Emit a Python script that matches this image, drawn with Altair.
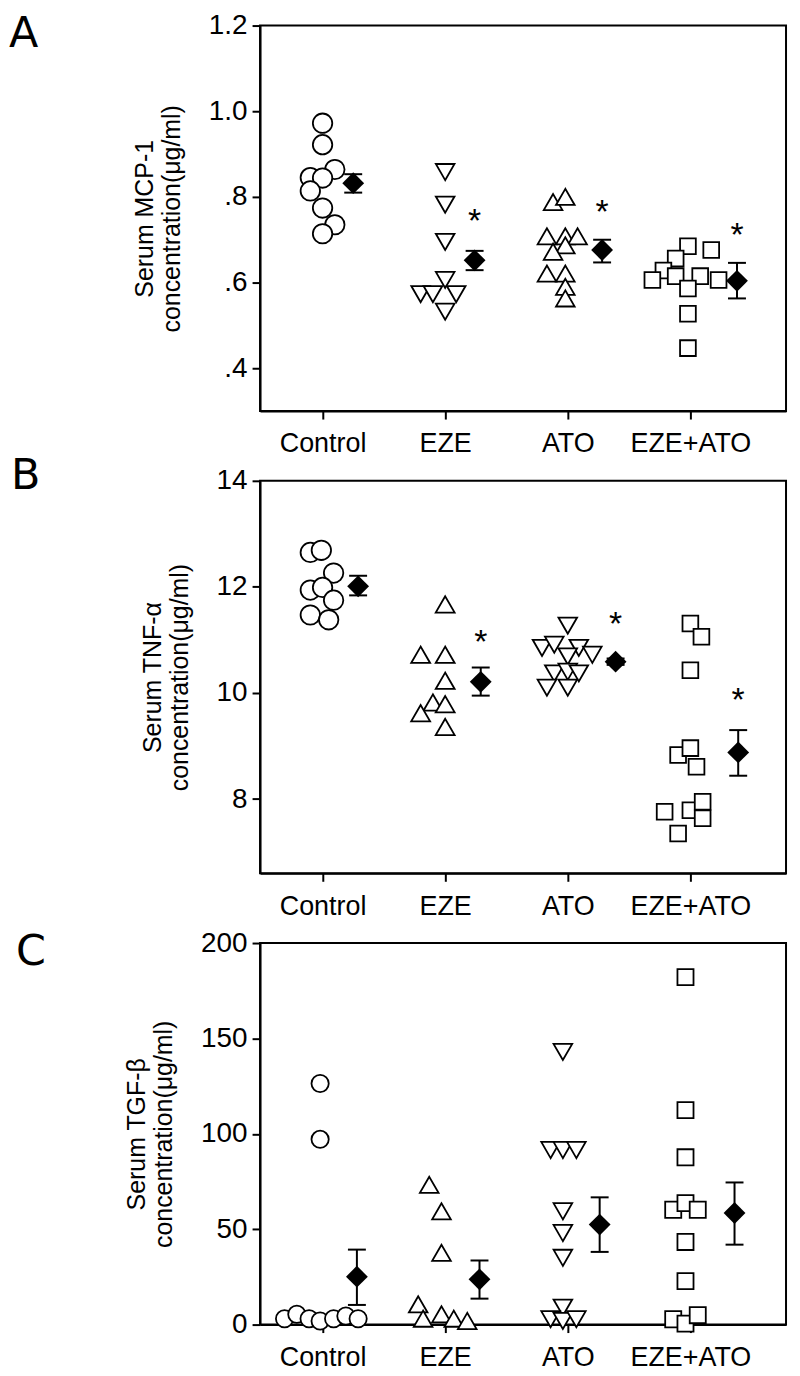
import altair as alt
import pandas as pd

groups = ["Control", "EZE", "ATO", "EZE+ATO"]

# ---------------- Panel A : Serum MCP-1 ----------------
a_ctrl_x = [1.00, 1.00, 1.10, 0.90, 1.00, 0.90, 1.00, 1.10, 1.00]
a_ctrl_y = [0.972, 0.922, 0.864, 0.845, 0.844, 0.814, 0.774, 0.735, 0.714]
a_eze_x = [2.00, 2.00, 2.00, 2.00, 1.80, 1.90, 2.09, 2.00]
a_eze_y = [0.858, 0.782, 0.695, 0.606, 0.573, 0.573, 0.573, 0.532]
a_ato_x = [2.88, 2.98, 2.83, 2.98, 3.08, 2.98, 2.88, 2.83, 2.98, 2.98, 2.98]
a_ato_y = [0.788, 0.800, 0.708, 0.708, 0.708, 0.687, 0.672, 0.621, 0.621, 0.590, 0.563]
a_combo_x = [3.98, 4.17, 3.88, 3.78, 3.69, 3.88, 4.08, 3.98, 4.23, 3.98, 3.98]
a_combo_y = [0.685, 0.676, 0.656, 0.628, 0.606, 0.615, 0.615, 0.586, 0.606, 0.527, 0.447]
a_mean_x = [1.25, 2.24, 3.28, 4.38]
a_mean = [0.832, 0.652, 0.676, 0.604]
a_lo = [0.810, 0.629, 0.647, 0.563]
a_hi = [0.853, 0.674, 0.700, 0.646]
a_star = [None, 0.755, 0.776, 0.722]

# ---------------- Panel B : Serum TNF-α ----------------
b_ctrl_x = [0.90, 0.99, 1.09, 0.90, 1.00, 1.09, 0.90, 1.05]
b_ctrl_y = [12.65, 12.69, 12.26, 11.94, 11.99, 11.75, 11.47, 11.38]
b_eze_x = [2.00, 1.80, 2.00, 2.00, 1.90, 2.00, 1.80, 2.00]
b_eze_y = [11.67, 10.72, 10.72, 10.23, 9.82, 9.79, 9.62, 9.36]
b_ato_x = [3.00, 2.79, 2.89, 3.09, 3.20, 3.00, 2.89, 3.00, 3.09, 2.83, 3.00]
b_ato_y = [11.27, 10.85, 10.91, 10.85, 10.72, 10.69, 10.37, 10.40, 10.37, 10.10, 10.10]
b_combo_x = [4.00, 4.09, 4.00, 3.90, 4.00, 4.05, 3.79, 4.00, 4.10, 4.10, 3.90]
b_combo_y = [11.31, 11.06, 10.43, 8.83, 8.96, 8.61, 7.76, 7.79, 7.95, 7.64, 7.35]
b_mean_x = [1.29, 2.29, 3.39, 4.39]
b_mean = [12.01, 10.21, 10.59, 8.88]
b_lo = [11.84, 9.95, 10.53, 8.44]
b_hi = [12.21, 10.48, 10.65, 9.30]
b_star = [None, 11.06, 11.40, 9.96]

# ---------------- Panel C : Serum TGF-β ----------------
c_ctrl_x = [0.98, 0.98, 0.69, 0.79, 0.89, 0.98, 1.09, 1.19, 1.29]
c_ctrl_y = [126.4, 97.1, 3.1, 5.4, 3.1, 1.9, 3.1, 4.5, 3.1]
c_eze_x = [1.87, 1.97, 1.97, 1.78, 1.82, 1.97, 2.07, 2.18]
c_eze_y = [73.3, 59.4, 37.6, 10.6, 3.1, 5.4, 3.1, 1.9]
c_ato_x = [2.96, 2.86, 2.96, 3.07, 2.96, 2.96, 2.96, 2.96, 2.86, 2.96, 3.07]
c_ato_y = [142.9, 91.5, 91.5, 91.5, 59.4, 48.0, 35.0, 8.9, 2.8, 1.9, 2.8]
c_combo_x = [3.96, 3.96, 3.96, 3.86, 3.96, 4.06, 3.96, 3.96, 3.86, 3.96, 4.06]
c_combo_y = [182.1, 112.4, 87.7, 60.2, 63.7, 60.2, 43.3, 22.8, 2.8, 0.5, 4.9]
c_mean_x = [1.28, 2.28, 3.26, 4.36]
c_mean = [25.1, 23.7, 52.4, 58.5]
c_lo = [10.3, 13.6, 38.1, 41.9]
c_hi = [39.3, 33.6, 66.7, 74.5]
c_star = [None, None, None, None]

FONT = "Liberation Sans"
XLBL = 27
YLBL = 28


def points_df(xs, ys):
    rows = []
    for g, gx, gy in zip(groups, xs, ys):
        for x, y in zip(gx, gy):
            rows.append({"group": g, "x": x, "y": y})
    return pd.DataFrame(rows)


def means_df(mx, m, lo, hi, star):
    return pd.DataFrame({"group": groups, "x": mx, "mean": m, "lo": lo, "hi": hi, "star": star})


x_label_expr = "['', 'Control', 'EZE', 'ATO', 'EZE+ATO'][datum.value]"


def panel(pts, means, ydomain, yticks, ylabel_expr, title, letter, letter_x, letter_y,
          shapes, sizes, height):
    xscale = alt.Scale(domain=[0.49, 4.78], nice=False, zero=False)
    yscale = alt.Scale(domain=ydomain, nice=False, zero=False)
    xaxis = alt.Axis(values=[1, 2, 3, 4], labelExpr=x_label_expr, title=None, grid=False,
                     tickSize=8, labelPadding=12, labelFontSize=XLBL, labelFont=FONT,
                     labelColor="black", domainColor="black", tickColor="black",
                     domainWidth=2, tickWidth=2, labelFlush=False)
    yaxis = alt.Axis(values=yticks, labelExpr=ylabel_expr, title=title, grid=False,
                     tickSize=8, labelPadding=5, labelFontSize=YLBL, labelFont=FONT,
                     labelColor="black", domainColor="black", tickColor="black",
                     domainWidth=2, tickWidth=2, titleFont=FONT, titleFontSize=25,
                     titleFontWeight="normal", titleColor="black", titlePadding=24,
                     titleLineHeight=27, labelFlush=False)

    layers = []
    for i, g in enumerate(groups):
        sub = pts[pts["group"] == g]
        if i == 0:
            enc_x = alt.X("x:Q", scale=xscale, axis=xaxis)
            enc_y = alt.Y("y:Q", scale=yscale, axis=yaxis)
        else:
            enc_x = alt.X("x:Q", scale=xscale)
            enc_y = alt.Y("y:Q", scale=yscale)
        layers.append(
            alt.Chart(sub).mark_point(shape=shapes[i], size=sizes[i], filled=True,
                                      fill="white", stroke="black", strokeWidth=1.8,
                                      opacity=1).encode(x=enc_x, y=enc_y)
        )
    mbase = alt.Chart(means)
    bars = mbase.mark_rule(color="black", strokeWidth=2).encode(
        x=alt.X("x:Q", scale=xscale), y=alt.Y("lo:Q", scale=yscale), y2="hi:Q")
    cap_lo = mbase.mark_point(shape="M-1,0L1,0", size=324, stroke="black", strokeWidth=2,
                              opacity=1).encode(x=alt.X("x:Q", scale=xscale),
                                                y=alt.Y("lo:Q", scale=yscale))
    cap_hi = mbase.mark_point(shape="M-1,0L1,0", size=324, stroke="black", strokeWidth=2,
                              opacity=1).encode(x=alt.X("x:Q", scale=xscale),
                                                y=alt.Y("hi:Q", scale=yscale))
    diamonds = mbase.mark_point(shape="diamond", filled=True, color="black", size=480,
                                opacity=1).encode(x=alt.X("x:Q", scale=xscale),
                                                  y=alt.Y("mean:Q", scale=yscale))
    stars = mbase.transform_filter("isValid(datum.star)").mark_text(
        text="*", font=FONT, fontSize=34, color="black", baseline="alphabetic", dy=16
    ).encode(x=alt.X("x:Q", scale=xscale), y=alt.Y("star:Q", scale=yscale))
    lett = alt.Chart(pd.DataFrame({"t": [letter]})).mark_text(
        font="DejaVu Sans", fontSize=43, align="left", baseline="alphabetic", color="black"
    ).encode(text="t:N", x=alt.value(letter_x), y=alt.value(letter_y))

    return alt.layer(*layers, bars, cap_lo, cap_hi, diamonds, stars, lett).properties(
        width=528, height=height)


lab_A = "datum.value >= 1 ? format(datum.value, '.1f') : replace(format(datum.value, '.1f'), '0.', '.')"
lab_int = "format(datum.value, 'd')"

chartA = panel(points_df([a_ctrl_x, a_eze_x, a_ato_x, a_combo_x], [a_ctrl_y, a_eze_y, a_ato_y, a_combo_y]),
               means_df(a_mean_x, a_mean, a_lo, a_hi, a_star),
               [0.3, 1.2], [0.4, 0.6, 0.8, 1.0, 1.2], lab_A,
               ["Serum  MCP-1", "concentration(μg/ml)"], "A", -252, 22,
               ["circle", "triangle-down", "triangle-up", "square"], [380, 350, 350, 250], 387)

chartB = panel(points_df([b_ctrl_x, b_eze_x, b_ato_x, b_combo_x], [b_ctrl_y, b_eze_y, b_ato_y, b_combo_y]),
               means_df(b_mean_x, b_mean, b_lo, b_hi, b_star),
               [6.6, 14], [8, 10, 12, 14], lab_int,
               ["Serum  TNF-α", "concentration(μg/ml)"], "B", -250, 8,
               ["circle", "triangle-up", "triangle-down", "square"], [380, 360, 350, 250], 394)

chartC = panel(points_df([c_ctrl_x, c_eze_x, c_ato_x, c_combo_x], [c_ctrl_y, c_eze_y, c_ato_y, c_combo_y]),
               means_df(c_mean_x, c_mean, c_lo, c_hi, c_star),
               [0, 200], [0, 50, 100, 150, 200], lab_int,
               ["Serum  TGF-β", "concentration(μg/ml)"], "C", -245, 22,
               ["circle", "triangle-up", "triangle-down", "square"], [300, 350, 350, 260], 383)

chart = alt.vconcat(chartA, chartB, chartC, spacing=70, bounds="flush").properties(
    padding={"left": 0, "top": 0, "right": 5, "bottom": 5}, background="white"
).configure_view(stroke="black", strokeWidth=2)

chart.save("out.html", embed_options={"renderer": "svg", "actions": False})
